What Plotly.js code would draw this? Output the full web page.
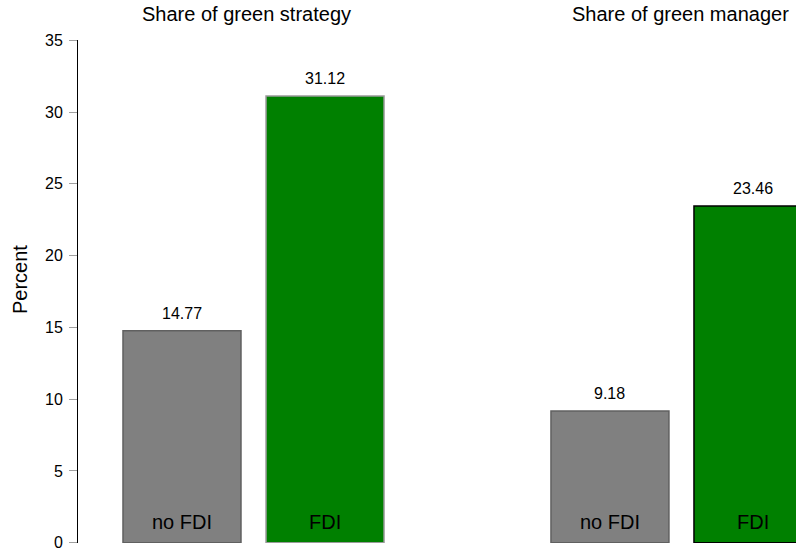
<!DOCTYPE html>
<html>
<head>
<meta charset="utf-8">
<script src="https://cdn.plot.ly/plotly-3.0.1.min.js"></script>
<style>
  html, body { margin: 0; padding: 0; background: #fff; }
  #chart { width: 796px; height: 549px; }
</style>
</head>
<body>
<div id="chart"></div>
<script>
// data
const groups = ["no FDI", "FDI"];
const strategyShare = [14.77, 31.12];
const managerShare = [9.18, 23.46];
const panelTitles = ["Share of green strategy", "Share of green manager"];
const yTicks = [0, 5, 10, 15, 20, 25, 30, 35];

const C_GREY = "#808080";
const C_GREEN = "#008000";
const FONT = "Liberation Sans, Arial, sans-serif";

const pos = groups.map((g, i) => i);

const tr1 = {
  x: pos, y: strategyShare, type: "bar", width: 0.825,
  xaxis: "x", yaxis: "y", hoverinfo: "y",
  marker: { color: [C_GREY, C_GREEN], line: { color: ["#606060", "#9a9a9a"], width: 1.5 } }
};
const tr2 = {
  x: pos, y: managerShare, type: "bar", width: 0.825,
  xaxis: "x2", yaxis: "y2", hoverinfo: "y",
  marker: { color: [C_GREY, C_GREEN], line: { color: ["#606060", "#000000"], width: 1.5 } }
};

// value labels above bars, group labels inside at the bottom
const annotations = [];
[[strategyShare, "x", "y"], [managerShare, "x2", "y2"]].forEach(([vals, xr, yr]) => {
  vals.forEach((v, i) => {
    annotations.push({
      x: i, y: v, xref: xr, yref: yr, text: v.toFixed(2), showarrow: false,
      xanchor: "center", yanchor: "bottom", yshift: 7,
      font: { family: FONT, size: 16, color: "#000" }
    });
    annotations.push({
      x: i, y: 0, xref: xr, yref: yr, text: groups[i], showarrow: false,
      xanchor: "center", yanchor: "bottom", yshift: 8,
      font: { family: FONT, size: 20, color: "#000" }
    });
  });
});
annotations.push(
  { x: 246 / 796, y: 1 - 14 / 549, xref: "paper", yref: "paper", text: panelTitles[0],
    xanchor: "center", yanchor: "middle", showarrow: false,
    font: { family: FONT, size: 20, color: "#000" } },
  { x: 680 / 796, y: 1 - 14 / 549, xref: "paper", yref: "paper", text: panelTitles[1],
    xanchor: "center", yanchor: "middle", showarrow: false,
    font: { family: FONT, size: 20, color: "#000" } },
  { x: 20 / 796, y: 1 - 280 / 549, xref: "paper", yref: "paper", text: "Percent", textangle: -90,
    xanchor: "center", yanchor: "middle", showarrow: false,
    font: { family: FONT, size: 20, color: "#000" } }
);

const yDom = [6 / 549, 509 / 549];
const layout = {
  width: 796, height: 549,
  margin: { l: 0, r: 0, t: 0, b: 0 },
  paper_bgcolor: "#fff", plot_bgcolor: "rgba(0,0,0,0)",
  showlegend: false,
  font: { family: FONT, color: "#000" },
  bargap: 0,
  xaxis: { domain: [78 / 796, 414 / 796], range: [-0.727, 1.622], visible: false, fixedrange: true },
  xaxis2: { domain: [511 / 796, 1], range: [-0.692, 1.301], visible: false, fixedrange: true },
  yaxis: {
    domain: yDom, range: [-0.02, 35.02], anchor: "x",
    tickvals: yTicks, ticks: "outside", ticklen: 8, tickcolor: "#a0a0a0", tickwidth: 1,
    showline: true, linecolor: "#000", linewidth: 1,
    showgrid: false, zeroline: false, ticklabelstandoff: 3, ticklabeloverflow: "allow",
    tickfont: { family: FONT, size: 16, color: "#000" }
  },
  yaxis2: { domain: yDom, range: [-0.02, 35.02], anchor: "x2", visible: false, showgrid: false, zeroline: false },
  annotations
};

Plotly.newPlot("chart", [tr1, tr2], layout, { displayModeBar: false, staticPlot: true });
</script>
</body>
</html>
